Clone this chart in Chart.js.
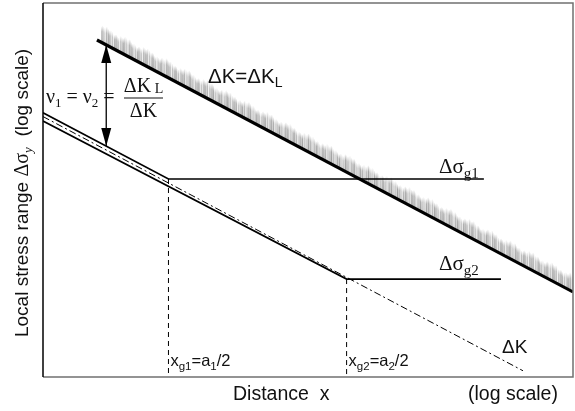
<!DOCTYPE html>
<html>
<head>
<meta charset="utf-8">
<script src="https://cdn.jsdelivr.net/npm/chart.js@4/dist/chart.umd.min.js"></script>
<style>
  html, body { margin: 0; padding: 0; background: #fff; }
  canvas { display: block; }
</style>
</head>
<body>
<canvas id="c" width="575" height="411"></canvas>
<script>
// Threshold line ΔK = ΔK_L (log-log, slope -1/2)
const limitX = [0.202, 100];
const limitY = [63.4, 2.85];
// Stress for crack a1: falls with distance, then flat at Δσg1
const curve1X = [0.1, 0.513, 31.3];
const curve1Y = [25.9, 11.45, 11.45];
// Stress for crack a2: falls with distance, then flat at Δσg2
const curve2X = [0.1, 5.23, 39.1];
const curve2Y = [23.4, 3.34, 3.34];
// Stress intensity ΔK line (dash-dot)
const deltaKX = [0.1, 52.1];
const deltaKY = [24.7, 1.08];
// Distances x_g1 = a1/2 and x_g2 = a2/2
const xg = [0.513, 5.23];
const xgTop = [11.45, 3.34];
// Arrow between ΔK_L and the stress line
const arrowX = [0.228, 0.228];
const arrowY = [59.7, 17.2];

const SANS = '"Liberation Sans", Arial, sans-serif';
const SERIF = '"Liberation Serif", "Times New Roman", serif';

const pts = (xs, ys) => xs.map((x, i) => ({ x, y: ys[i] }));

function drawRich(ctx, x, y, parts, align) {
  let w = 0;
  parts.forEach(p => { ctx.font = p.f; w += ctx.measureText(p.t).width; });
  let cx = align === 'center' ? x - w / 2 : x;
  parts.forEach(p => {
    ctx.font = p.f;
    ctx.fillText(p.t, cx, y + (p.dy || 0));
    cx += ctx.measureText(p.t).width;
  });
  return w;
}

// smooth-ish pseudo pattern for the hatch tones
function tone(px) {
  const v = 0.5 + 0.3 * Math.sin(px * 2.71) * Math.cos(px * 0.53) + 0.2 * Math.sin(px * 7.13 + 1.1);
  return Math.max(0, Math.min(1, v));
}

const decorations = {
  id: 'decorations',
  beforeDatasetsDraw(chart) {
    const ctx = chart.ctx;
    const meta = chart.getDatasetMeta(0);
    const p0 = meta.data[0], p1 = meta.data[1];
    ctx.save();
    // hatching on the upper side of the threshold line
    const xs = Math.round(p0.x + 4), xe = Math.round(p1.x - 1);
    for (let px = xs; px <= xe; px++) {
      const t = (px - p0.x) / (p1.x - p0.x);
      const ly = p0.y + t * (p1.y - p0.y);
      const h = 16 + 1.5 * Math.sin(px * 0.31) + 1.0 * Math.sin(px * 1.37);
      const g = Math.round(150 + 90 * tone(px));
      const grad = ctx.createLinearGradient(0, ly, 0, ly - h);
      grad.addColorStop(0, `rgba(${g},${g},${g},1)`);
      grad.addColorStop(0.65, `rgba(${g},${g},${g},0.85)`);
      grad.addColorStop(1, `rgba(${g},${g},${g},0)`);
      ctx.strokeStyle = grad;
      ctx.lineWidth = 1;
      ctx.beginPath();
      ctx.moveTo(px + 0.5, ly - 1);
      ctx.lineTo(px + 0.5, ly - h);
      ctx.stroke();
    }
    ctx.restore();
  },
  afterDatasetsDraw(chart) {
    const ctx = chart.ctx;
    const a = chart.chartArea;
    ctx.save();
    // frame
    ctx.lineWidth = 1.5;
    ctx.strokeStyle = '#707070';
    ctx.beginPath();
    ctx.moveTo(a.left, a.top); ctx.lineTo(a.right, a.top);
    ctx.lineTo(a.right, a.bottom); ctx.lineTo(a.left, a.bottom);
    ctx.stroke();
    ctx.strokeStyle = '#000';
    ctx.beginPath();
    ctx.moveTo(a.left, a.top); ctx.lineTo(a.left, a.bottom);
    ctx.stroke();

    // arrow heads
    const am = chart.getDatasetMeta(6);
    const top = am.data[0], bot = am.data[1];
    ctx.fillStyle = '#000';
    ctx.beginPath();
    ctx.moveTo(top.x, top.y); ctx.lineTo(top.x - 5, top.y + 18); ctx.lineTo(top.x + 5, top.y + 18); ctx.closePath();
    ctx.fill();
    ctx.beginPath();
    ctx.moveTo(bot.x, bot.y); ctx.lineTo(bot.x - 5, bot.y - 18); ctx.lineTo(bot.x + 5, bot.y - 18); ctx.closePath();
    ctx.fill();

    ctx.fillStyle = '#111';
    ctx.textBaseline = 'alphabetic';
    // ν1 = ν2 = ΔK_L / ΔK
    drawRich(ctx, 46, 103, [
      { t: 'ν', f: `20px ${SERIF}` }, { t: '1', f: `13px ${SERIF}`, dy: 4 },
      { t: ' = ν', f: `20px ${SERIF}` }, { t: '2', f: `13px ${SERIF}`, dy: 4 },
      { t: ' =', f: `20px ${SERIF}` }
    ]);
    drawRich(ctx, 143.5, 92, [
      { t: 'ΔK', f: `20px ${SERIF}` }, { t: ' L', f: `14px ${SERIF}`, dy: 1 }
    ], 'center');
    drawRich(ctx, 143.5, 117, [{ t: 'ΔK', f: `20px ${SERIF}` }], 'center');
    ctx.fillRect(124, 97.5, 39, 1);

    // ΔK = ΔK_L
    drawRich(ctx, 208, 83, [
      { t: 'ΔK=ΔK', f: `20.5px ${SANS}` }, { t: 'L', f: `14px ${SANS}`, dy: 4 }
    ]);
    // Δσg1, Δσg2
    drawRich(ctx, 439, 173, [
      { t: 'Δσ', f: `21px ${SERIF}` }, { t: 'g1', f: `15px ${SERIF}`, dy: 5 }
    ]);
    drawRich(ctx, 439, 270, [
      { t: 'Δσ', f: `21px ${SERIF}` }, { t: 'g2', f: `15px ${SERIF}`, dy: 5 }
    ]);
    // ΔK
    drawRich(ctx, 502, 353, [{ t: 'ΔK', f: `19px ${SANS}` }]);

    // x_g labels at the dashed verticals
    const xs = chart.scales.x;
    const g1 = xs.getPixelForValue(xg[0]), g2 = xs.getPixelForValue(xg[1]);
    drawRich(ctx, g1 + 2, 366, [
      { t: 'x', f: `16.5px ${SANS}` }, { t: 'g1', f: `11.5px ${SANS}`, dy: 4 },
      { t: '=a', f: `16.5px ${SANS}` }, { t: '1', f: `11.5px ${SANS}`, dy: 4 },
      { t: '/2', f: `16.5px ${SANS}` }
    ]);
    drawRich(ctx, g2 + 2, 366, [
      { t: 'x', f: `16.5px ${SANS}` }, { t: 'g2', f: `11.5px ${SANS}`, dy: 4 },
      { t: '=a', f: `16.5px ${SANS}` }, { t: '2', f: `11.5px ${SANS}`, dy: 4 },
      { t: '/2', f: `16.5px ${SANS}` }
    ]);

    // axis titles
    drawRich(ctx, 233, 400, [{ t: 'Distance  x', f: `19.5px ${SANS}` }]);
    drawRich(ctx, 468, 400, [{ t: '(log scale)', f: `19.5px ${SANS}` }]);
    ctx.save();
    ctx.translate(28, 193);
    ctx.rotate(-Math.PI / 2);
    drawRich(ctx, 0, 0, [
      { t: 'Local stress range ', f: `19px ${SANS}` },
      { t: 'Δσ', f: `20px ${SERIF}` }, { t: 'y', f: `italic 13px ${SERIF}`, dy: 4 },
      { t: '  (log scale)', f: `19px ${SANS}` }
    ], 'center');
    ctx.restore();
    ctx.restore();
  }
};

const line = (data, opts) => Object.assign({
  data, borderColor: '#000', borderWidth: 1.6, pointRadius: 0, fill: false,
  tension: 0, borderJoinStyle: 'miter'
}, opts);

new Chart(document.getElementById('c'), {
  type: 'line',
  data: {
    datasets: [
      line(pts(limitX, limitY), { borderWidth: 3.2 }),
      line(pts(curve1X, curve1Y), { borderWidth: 1.7 }),
      line(pts(curve2X, curve2Y), { borderWidth: 1.7 }),
      line(pts(deltaKX, deltaKY), { borderWidth: 1, borderDash: [7, 3, 2, 3] }),
      line(pts([xg[0], xg[0]], [xgTop[0], 1]), { borderWidth: 1, borderDash: [5, 4] }),
      line(pts([xg[1], xg[1]], [xgTop[1], 1]), { borderWidth: 1, borderDash: [5, 4] }),
      line(pts(arrowX, arrowY), { borderWidth: 1.3 })
    ]
  },
  options: {
    responsive: false,
    animation: false,
    devicePixelRatio: 1,
    layout: { padding: { left: 43, top: 3, right: 2, bottom: 34 } },
    plugins: { legend: { display: false }, tooltip: { enabled: false } },
    scales: {
      x: { type: 'logarithmic', min: 0.1, max: 100, display: false },
      y: { type: 'logarithmic', min: 1, max: 100, display: false }
    }
  },
  plugins: [decorations]
});
</script>
</body>
</html>
